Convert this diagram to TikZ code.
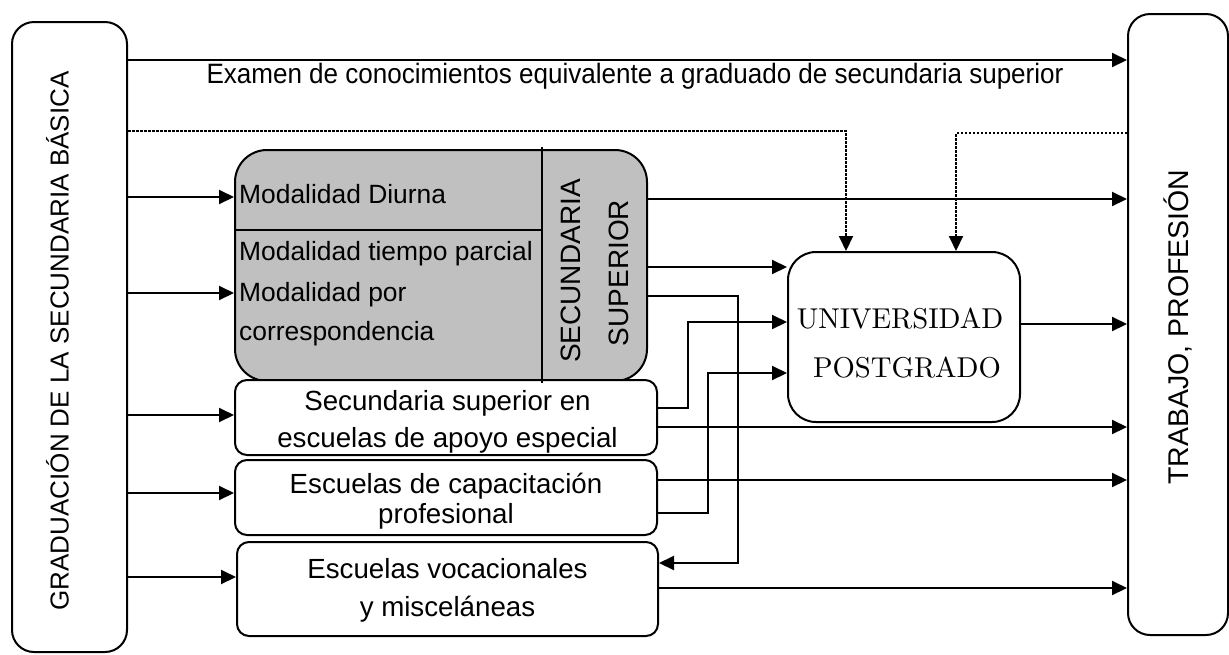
\documentclass[tikz,border=0pt]{standalone}
\usepackage{fontspec}
\newfontfamily\arial{Liberation Sans}
\newfontfamily\cmten{lmroman10-regular}[Extension=.otf]
\usetikzlibrary{arrows.meta}
\definecolor{boxgray}{HTML}{C0C0C0}
\begin{document}
\begin{tikzpicture}[x=1pt,y=-1pt,
  box/.style={draw, line width=2pt, inner sep=0pt, fill=white},
  conn/.style={line width=2pt, -{Triangle[length=15pt,width=14pt]}},
  dotconn/.style={conn, dash pattern=on 2.5pt off 1.5pt},
  lbl/.style={inner sep=0pt, font=\arial\fontsize{27.7pt}{32pt}\selectfont},
  glbl/.style={inner sep=0pt, font=\arial\fontsize{26.4pt}{30pt}\selectfont},
  unilbl/.style={inner sep=0pt, font=\cmten\fontsize{28.7pt}{34pt}\selectfont}
]
\useasboundingbox (0,0) rectangle (1229,654);

% side boxes
\node[box, rounded corners=22pt, minimum width=115pt, minimum height=630pt] (L) at (69.5,337) {};
\node[box, rounded corners=22pt, minimum width=100pt, minimum height=621pt] (R) at (1178,324.5) {};
\node[inner sep=0pt, rotate=90, anchor=base, font=\arial\fontsize{26pt}{30pt}\selectfont] (Ltxt) at (68.5,341) {GRADUACIÓN DE LA SECUNDARIA BÁSICA};
\node[inner sep=0pt, rotate=90, anchor=base, font=\arial\fontsize{28.5pt}{32pt}\selectfont] (Rtxt) at (1188,327) {TRABAJO, PROFESIÓN};

% gray box
\node[box, fill=boxgray, rounded corners=32pt, minimum width=412pt, minimum height=231pt] (G) at (441,265.5) {};
\draw[line width=2pt] (G.west |- 0,230) -- (542,230);
\node[glbl, anchor=base west] (g1) at (239,203) {Modalidad Diurna};
\node[glbl, anchor=base west] (g2) at (239,260) {Modalidad tiempo parcial};
\node[glbl, anchor=base west] (g3) at (239,301) {Modalidad por};
\node[glbl, anchor=base west] (g4) at (239,340) {correspondencia};
\node[inner sep=0pt, rotate=90, anchor=base, font=\arial\fontsize{28pt}{32pt}\selectfont] (gs1) at (580,271) {SECUNDARIA};
\node[inner sep=0pt, rotate=90, anchor=base, font=\arial\fontsize{28pt}{32pt}\selectfont] (gs2) at (628,273) {SUPERIOR};

% white boxes
\node[box, rounded corners=12pt, minimum width=422pt, minimum height=75pt] (B1) at (446,417.5) {};
\node[box, rounded corners=12pt, minimum width=422pt, minimum height=75pt] (B2) at (446,497.5) {};
\node[box, rounded corners=12pt, minimum width=421pt, minimum height=94pt] (B3) at (447.5,589) {};
\draw[line width=2pt] (542,147) -- (542,383);

\node[lbl, anchor=base] (b1a) at (447.5,410) {Secundaria superior en};
\node[lbl, anchor=base] (b1b) at (447.5,447) {escuelas de apoyo especial};
\node[lbl, anchor=base] (b2a) at (446,493) {Escuelas de capacitación};
\node[lbl, anchor=base] (b2b) at (446,523) {profesional};
\node[lbl, anchor=base] (b3a) at (447.5,578) {Escuelas vocacionales};
\node[lbl, anchor=base] (b3b) at (447.5,616) {y misceláneas};

% university
\node[box, rounded corners=28pt, minimum width=232pt, minimum height=170pt] (U) at (904,337) {};
\node[unilbl, anchor=base] (u1) at (900,328) {UNIVERSIDAD};
\node[unilbl, anchor=base] (u2) at (907,377) {POSTGRADO};

% top exam arrow
\draw[conn] (L.east |- 0,60) -- (R.west |- 0,60);
\node[inner sep=0pt, anchor=base] (exam) at (635,83) {\scalebox{0.93}[1]{\arial\fontsize{28pt}{32pt}\selectfont Examen de conocimientos equivalente a graduado de secundaria superior}};

% dotted
\draw[dotconn] (L.east |- 0,131) -| (846,0 |- U.north);
\draw[dotconn] (R.west |- 0,133) -| (956,0 |- U.north);

% from left
\draw[conn] (L.east |- 0,197) -- (G.west |- 0,197);
\draw[conn] (L.east |- 0,293) -- (G.west |- 0,293);
\draw[conn] (L.east |- 0,415) -- (B1.west |- 0,415);
\draw[conn] (L.east |- 0,493) -- (B2.west |- 0,493);
\draw[conn] (L.east |- 0,577) -- (B3.west |- 0,577);

% from gray box
\draw[conn] (G.east |- 0,199) -- (R.west |- 0,199);
\draw[conn] (G.east |- 0,267) -- (U.west |- 0,267);
\draw[conn] (G.east |- 0,296) -| (738,563) -- (B3.east |- 0,563);

% from white boxes
\draw[conn] (B1.east |- 0,408) -| (688,322) -- (U.west |- 0,322);
\draw[conn] (B1.east |- 0,427) -- (R.west |- 0,427);
\draw[conn] (B2.east |- 0,480) -- (R.west |- 0,480);
\draw[conn] (B2.east |- 0,513) -| (708,373) -- (U.west |- 0,373);
\draw[conn] (B3.east |- 0,588) -- (R.west |- 0,588);

% from university
\draw[conn] (U.east |- 0,324) -- (R.west |- 0,324);
\end{tikzpicture}
\end{document}
